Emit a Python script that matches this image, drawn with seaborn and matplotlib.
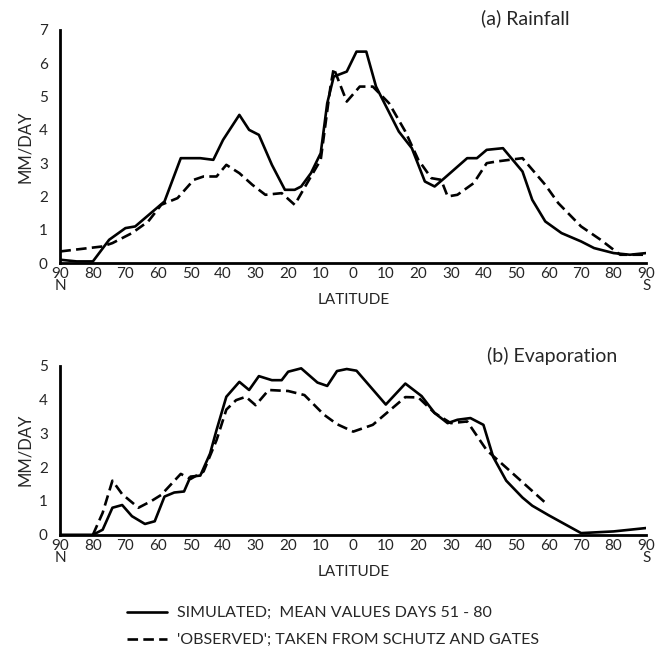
import numpy as np
import pandas as pd
import seaborn as sns
import matplotlib.pyplot as plt

# latitude: negative = north, positive = south
rain_sim_lat = [-90, -85, -80, -75, -70, -67, -64, -58, -53, -47, -43, -40, -35, -32, -29,
                -25, -21, -18, -16, -13, -10, -8, -6, -2, 1, 4, 7, 14, 18, 22, 25, 28,
                35, 38, 41, 46, 52, 55, 59, 64, 70, 74, 80, 85, 90]
rain_sim = [0.1, 0.05, 0.05, 0.7, 1.05, 1.1, 1.35, 1.85, 3.15, 3.15, 3.1, 3.7, 4.45, 4.0, 3.85,
            2.95, 2.2, 2.2, 2.3, 2.7, 3.3, 4.8, 5.6, 5.75, 6.35, 6.35, 5.3, 3.95, 3.45, 2.45, 2.3, 2.55,
            3.15, 3.15, 3.4, 3.45, 2.75, 1.9, 1.25, 0.9, 0.65, 0.45, 0.3, 0.25, 0.3]

rain_obs_lat = [-90, -77, -74, -68, -63, -59, -54, -49, -46, -42, -39, -35, -31, -27, -22, -18,
                -13, -10, -7, -6, -2, 2, 6, 11, 16, 20, 24, 27, 29, 32, 37, 41, 44, 48, 52,
                59, 63, 70, 76, 82, 90]
rain_obs = [0.35, 0.5, 0.6, 0.9, 1.25, 1.75, 1.95, 2.5, 2.6, 2.6, 2.95, 2.7, 2.35, 2.05, 2.1, 1.75,
            2.6, 3.1, 5.3, 5.85, 4.85, 5.3, 5.3, 4.8, 3.95, 3.1, 2.55, 2.5, 2.0, 2.05, 2.4, 3.0, 3.05,
            3.1, 3.15, 2.35, 1.8, 1.1, 0.7, 0.25, 0.25]

evap_sim_lat = [-90, -80, -77, -74, -71, -68, -64, -61, -58, -55, -52, -50, -47, -44, -42, -39,
                -35, -32, -29, -25, -22, -20, -16, -11, -8, -5, -2, 1, 10, 16, 21, 25, 29, 32,
                36, 40, 43, 47, 52, 55, 60, 70, 80, 90]
evap_sim = [0, 0, 0.15, 0.8, 0.88, 0.55, 0.32, 0.4, 1.13, 1.25, 1.28, 1.72, 1.75, 2.4, 3.1, 4.08,
            4.52, 4.28, 4.69, 4.57, 4.57, 4.82, 4.92, 4.5, 4.4, 4.84, 4.9, 4.85, 3.85, 4.47, 4.1, 3.6, 3.3, 3.4,
            3.45, 3.25, 2.3, 1.6, 1.1, 0.86, 0.58, 0.05, 0.1, 0.2]

evap_obs_lat = [-80, -77, -74, -71, -66, -62, -59, -53, -50, -46, -42, -39, -36, -33, -30, -26,
                -20, -15, -9, -5, 0, 6, 11, 16, 20, 25, 30, 35, 41, 48, 59]
evap_obs = [0, 0.65, 1.6, 1.2, 0.8, 1.0, 1.18, 1.8, 1.65, 1.87, 2.8, 3.7, 3.98, 4.08, 3.83, 4.28,
            4.25, 4.13, 3.55, 3.27, 3.05, 3.25, 3.66, 4.07, 4.06, 3.6, 3.3, 3.35, 2.5, 1.9, 0.95]

ticks = list(range(-90, 91, 10))
tick_labels = ['90\nN'] + [str(abs(t)) for t in ticks[1:-1]] + ['90\nS']

sns.set_style('white')
plt.rcParams['font.family'] = ['Lato', 'DejaVu Sans']

fig = plt.figure(figsize=(6.56, 6.66), dpi=100)
ax1 = fig.add_axes([0.092, 0.605, 0.893, 0.35])
ax2 = fig.add_axes([0.092, 0.197, 0.893, 0.254])

dash = (4, 2)

def draw(ax, lat_s, val_s, lat_o, val_o, ymax, title, tx, ty):
    sns.lineplot(x=lat_s, y=val_s, ax=ax, color='black', lw=1.9, label='SIMULATED;  MEAN VALUES DAYS 51 - 80')
    sns.lineplot(x=lat_o, y=val_o, ax=ax, color='black', lw=1.9,
                 label="'OBSERVED'; TAKEN FROM SCHUTZ AND GATES")
    ax.lines[1].set_dashes(dash)
    ax.set_xlim(-90, 90)
    ax.set_ylim(0, ymax)
    ax.set_xticks(ticks)
    ax.set_xticklabels(tick_labels, fontsize=11, linespacing=0.8)
    ax.set_yticks(range(0, ymax + 1))
    ax.tick_params(axis='both', direction='in', length=5, width=1.5, labelsize=11)
    ax.tick_params(axis='x', pad=3)
    ax.tick_params(axis='y', pad=9)
    ax.set_xlabel('LATITUDE', fontsize=11, labelpad=0)
    ax.set_ylabel('MM/DAY', fontsize=12, labelpad=4)
    for s in ['top', 'right']:
        ax.spines[s].set_visible(False)
    for s in ['left', 'bottom']:
        ax.spines[s].set_linewidth(2)
        ax.spines[s].set_color('black')
    ax.get_legend().remove()
    ax.text(tx, ty, title, transform=ax.transAxes, ha='right', va='baseline', fontsize=14)

draw(ax1, rain_sim_lat, rain_sim, rain_obs_lat, rain_obs, 7, '(a) Rainfall', 0.87, 1.026)
draw(ax2, evap_sim_lat, evap_sim, evap_obs_lat, evap_obs, 5, '(b) Evaporation', 0.95, 1.024)

handles, labels = ax1.get_legend_handles_labels()
leg = fig.legend(handles, labels, loc='upper left', bbox_to_anchor=(0.194, 0.09),
                 frameon=False, fontsize=11.5, handlelength=2.5, handletextpad=0.6,
                 labelspacing=0.8, borderpad=0, borderaxespad=0)
leg.legend_handles[1].set_dashes(dash)

fig.savefig('out.png', dpi=100)
